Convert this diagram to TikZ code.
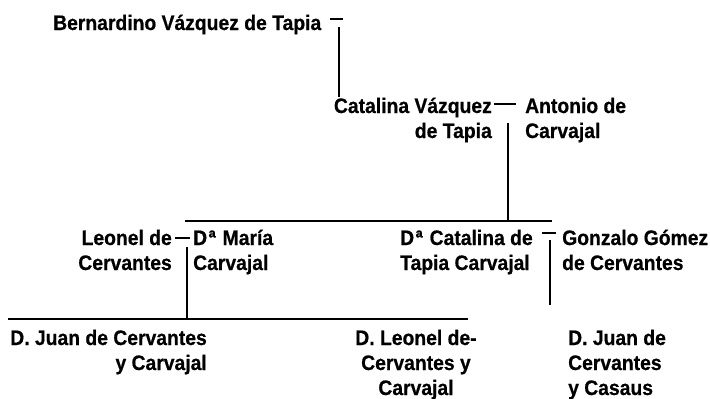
\documentclass[tikz,border=0pt]{standalone}
\usepackage{fontspec}
\setmainfont[FakeStretch=0.92, BoldFeatures={FakeBold=0.6}]{Liberation Sans}

\tikzset{
    person/.style={inner sep=0pt, font=\bfseries\fontsize{21}{25}\selectfont},
    link/.style={line width=2.8pt},
}
\newcommand{\Dona}{D\kern1.5ptª\kern1.5pt}

\begin{document}
\begin{tikzpicture}[x=1pt, y=-1pt]
    \useasboundingbox (0,0) rectangle (710,399);

    \node[person, anchor=base west] (bern) at (53,30) {Bernardino Vázquez de Tapia};
    \node[person, anchor=base east, align=right] (catv) at (492,138) {Catalina Vázquez\\de Tapia};
    \node[person, anchor=base west, align=left] (anto) at (525,138) {Antonio de\\Carvajal};

    \node[person, anchor=base east, align=right] (leon) at (172,270) {Leonel de\\Cervantes};
    \node[person, anchor=base west, align=left] (mari) at (193,270) {\Dona\ María\\Carvajal};
    \node[person, anchor=base west, align=left] (dcat) at (400,270) {\Dona\ Catalina de\\Tapia Carvajal};
    \node[person, anchor=base west, align=left] (gonz) at (562,270) {Gonzalo Gómez\\de Cervantes};

    \node[person, anchor=base east, align=right] (juan) at (207,370) {D. Juan de Cervantes\\y Carvajal};
    \node[person, anchor=base, align=center] (leo2) at (416,395) {D. Leonel de-\\Cervantes y\\Carvajal};
    \node[person, anchor=base west, align=left] (jua2) at (568,395) {D. Juan de\\Cervantes\\y Casaus};

    % Bernardino
    \coordinate (b0) at (330,19); \coordinate (b1) at (343,19);
    \coordinate (b2) at (339,27); \coordinate (b3) at (339,97);
    \draw[link] (b0) -- (b1);
    \draw[link] (b2) -- (b3);

    % Catalina + Antonio
    \coordinate (c0) at (494,104); \coordinate (c1) at (516,104);
    \coordinate (c2) at (508,123);
    \coordinate (sl) at (185,221); \coordinate (sr) at (552,221);
    \draw[link] (c0) -- (c1);
    \draw[link] (c2) -- (c2 |- sl);
    \draw[link] (sl) -- (sr);

    % Leonel + Maria
    \coordinate (l0) at (175,238); \coordinate (l1) at (190,238);
    \coordinate (l2) at (187,247);
    \coordinate (jl) at (8,319); \coordinate (jr) at (468,319);
    \draw[link] (l0) -- (l1);
    \draw[link] (l2) -- (l2 |- jl);
    \draw[link] (jl) -- (jr);

    % Catalina + Gonzalo
    \coordinate (g0) at (542,233); \coordinate (g1) at (556,233);
    \coordinate (g2) at (550,240); \coordinate (g3) at (550,305);
    \draw[link] (g0) -- (g1);
    \draw[link] (g2) -- (g3);
\end{tikzpicture}
\end{document}
